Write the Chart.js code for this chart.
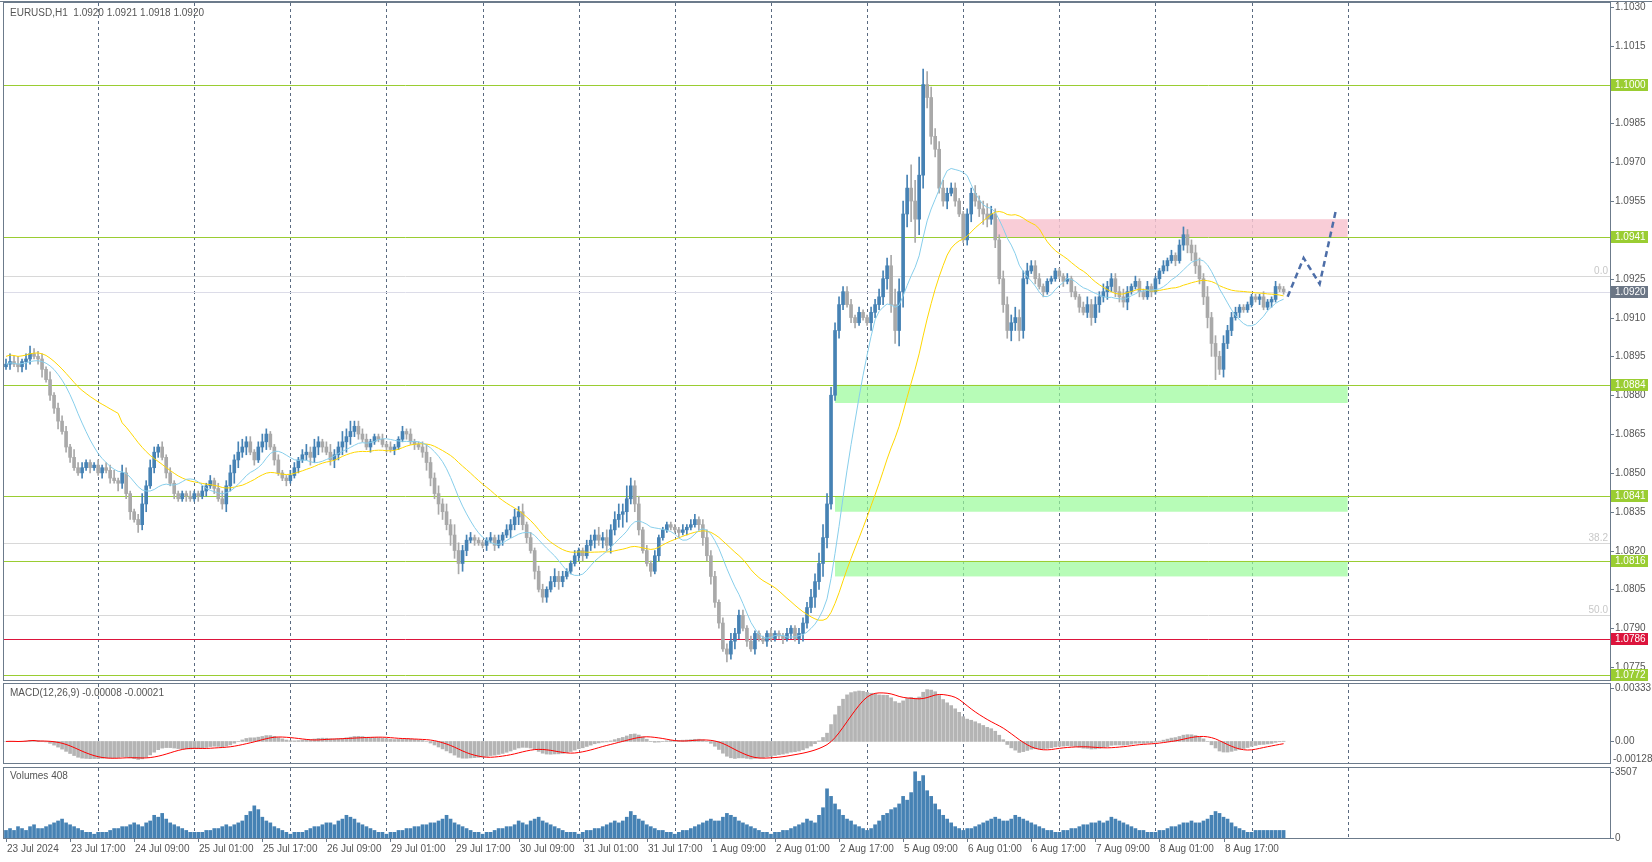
<!DOCTYPE html>
<html><head><meta charset="utf-8">
<script src="https://cdn.jsdelivr.net/npm/chart.js@4.4.1/dist/chart.umd.min.js"></script>
<style>body{margin:0;background:#fff;overflow:hidden}.p{position:absolute;left:0;width:1652px}</style>
</head><body>
<div class="p" style="top:0"><canvas id="c1" width="1652" height="682"></canvas></div>
<div class="p" style="top:682px"><canvas id="c2" width="1652" height="82"></canvas></div>
<div class="p" style="top:764px"><canvas id="c3" width="1652" height="98"></canvas></div>
<script>
// closes in pips above 1.0800, hourly EURUSD H1
const closePips = [
92,93,92,91,93,94,96,95,94,90,86,80,75,70,66,60,56,52,50,52,54,52,53,50,
52,51,48,47,46,50,42,35,32,30,38,45,52,58,60,56,50,46,42,40,42,41,40,42,
41,43,45,47,44,40,38,45,50,55,58,60,62,58,55,60,62,65,60,55,50,48,47,49,
52,55,57,58,56,60,62,60,58,55,57,60,62,64,66,68,65,63,60,62,64,63,61,60,
59,60,63,66,65,62,61,60,58,54,48,42,38,35,30,26,20,15,20,24,25,24,23,22,
24,25,22,24,26,28,30,33,35,30,25,20,12,5,2,5,8,10,8,10,12,15,18,20,
18,22,24,26,24,25,22,28,32,34,35,40,45,38,28,20,15,12,18,25,28,30,29,28,
27,28,29,30,32,30,25,18,10,0,-8,-18,-20,-15,-12,-5,-10,-15,-18,-12,-14,-15,-12,-14,
-12,-13,-14,-12,-10,-14,-12,-8,-2,2,8,15,25,38,80,105,115,120,115,110,108,112,110,108,
112,115,118,125,130,115,105,120,150,160,155,148,165,200,195,180,175,160,155,158,160,155,150,140,
150,158,155,152,150,148,150,140,125,115,105,108,110,105,125,128,130,125,122,120,124,125,128,126,
124,125,120,118,114,112,115,110,115,118,120,122,125,120,118,116,120,122,124,120,118,122,120,125,
128,130,132,134,132,138,142,138,135,130,125,118,110,100,95,90,100,105,110,112,114,113,115,118,
117,118,114,116,117,122,121,120];
const wickUp = "232312322213122213221112"+"122313211242321212111121"+"121212323243221232112112"+"212323212322434222211121"+
"211212112322323243222111"+"121212232312122123221121"+"122232323435323121211111"+"121221232212232221211112"+
"111211222334543332221211"+"223334655598765433322211"+"223234322333433322211111"+"121212323232222321211211"+
"121212322332423232221111"+"11211211";
const wickDn = "121223212312231221121211"+"212132231323122121211211"+"212121232432312123121121"+"121232321232343221121112"+
"121121212332432434321211"+"212121323221312212321112"+"212323232354232112121111"+"212112323221323212121121"+
"112121232243542232122111"+"322343566589654332231211"+"232343232334343212121111"+"212121232323222231121121"+
"212121233323459232212111"+"12112111";
const volHundreds = [
4,5,4,6,5,4,6,7,5,5,6,7,8,9,10,8,7,6,5,4,3,3,2,3,
3,3,4,5,5,6,6,7,8,7,6,8,9,12,11,13,10,8,7,6,5,4,3,3,
3,3,4,4,5,5,6,7,6,7,8,9,12,14,17,15,11,9,8,6,5,4,3,2,
3,3,3,4,5,6,6,7,8,8,7,9,10,12,11,10,8,7,6,5,4,3,3,2,
3,3,4,4,5,5,6,6,7,7,8,8,9,10,12,10,8,7,6,5,4,3,3,2,
3,3,4,5,5,6,6,7,9,8,7,9,10,11,9,8,7,6,5,4,3,3,3,2,
3,4,4,5,5,6,7,8,9,8,9,11,14,12,10,9,7,6,5,4,4,3,3,2,
3,4,4,5,6,7,8,9,10,9,9,11,13,12,11,9,8,7,6,5,4,3,3,2,
3,3,4,4,5,6,7,8,10,9,8,12,16,26,22,18,15,12,10,9,7,6,5,4,
5,7,9,12,13,15,16,18,22,20,24,35,30,33,25,22,18,15,12,10,8,6,5,4,
5,5,6,7,8,9,10,11,10,9,9,10,12,11,10,9,8,7,6,5,4,4,3,3,
4,4,5,5,6,7,7,8,8,9,8,9,11,10,9,8,7,6,5,4,4,3,3,3,
4,4,5,6,6,7,8,8,9,8,8,9,10,12,14,13,11,10,8,6,5,4,3,3,
4,4,4,4,4,4,4,4];
const timeLabels = ["23 Jul 2024","23 Jul 17:00","24 Jul 09:00","25 Jul 01:00","25 Jul 17:00","26 Jul 09:00","29 Jul 01:00","29 Jul 17:00","30 Jul 09:00","31 Jul 01:00","31 Jul 17:00","1 Aug 09:00","2 Aug 01:00","2 Aug 17:00","5 Aug 09:00","6 Aug 01:00","6 Aug 17:00","7 Aug 09:00","8 Aug 01:00","8 Aug 17:00"];
const greenLevels = [1.1000,1.0941,1.0884,1.0841,1.0816,1.0772];
const redLevel = 1.0786;
const currentPrice = 1.0920;
const fibLevels = [[1.0926,"0.0"],[1.0823,"38.2"],[1.0795,"50.0"]];
const greenZones = [[1.0877,1.0884],[1.0835,1.0841],[1.0810,1.0816]];
const pinkZone = [1.0941,1.0948];
const zoneStart = 207, zoneEnd = 335;
const forecastIdx = [320,324,328,332];
const forecastVal = [1.0918,1.0933,1.0923,1.0951];

const N = 401;
const labels = Array.from({length:N},(_,i)=>i);
const C = closePips.map(v=>1.08+v/10000);
const O = C.map((v,i)=> i? C[i-1] : 1.0891);
const H = C.map((v,i)=>Math.max(v,O[i]) + (+wickUp[i]||1)/10000);
const L = C.map((v,i)=>Math.min(v,O[i]) - (+wickDn[i]||1)/10000);
function pad(a){const r=new Array(N).fill(null);a.forEach((v,i)=>r[i]=v);return r;}
const bodies = pad(C.map((c,i)=> c===O[i] ? [c-0.00003,c+0.00003] : [Math.min(c,O[i]),Math.max(c,O[i])]));
const bodyCol = pad(C.map((c,i)=> c>O[i] ? '#4682b4' : c<O[i] ? '#a9a9a9' : '#000'));
const wicks = pad(C.map((c,i)=>[L[i],H[i]]));
function sma(a,p){return a.map((v,i)=> i<p-1?null: a.slice(i-p+1,i+1).reduce((s,x)=>s+x,0)/p);}
function ema(a,p){const k=2/(p+1);let e=a[0];return a.map(v=>e=v*k+e*(1-k));}
const maFast = pad(sma(C,12).map((v,i)=>v===null?C.slice(0,i+1).reduce((s,x)=>s+x,0)/(i+1):v));
const maSlow = pad(sma(C,30).map((v,i)=>v===null?C.slice(0,i+1).reduce((s,x)=>s+x,0)/(i+1)+0.0003:v));
const e12=ema(C,12), e26=ema(C,26);
const macd = C.map((v,i)=>e12[i]-e26[i]);
const sig = sma(macd,9).map((v,i)=>v===null?macd[i]:v);
const fc = new Array(N).fill(null); forecastIdx.forEach((ix,k)=>fc[ix]=forecastVal[k]);

const FONT = '10px "Liberation Sans", Arial, sans-serif';
function vgrid(ch){const {ctx,chartArea:a,scales:{x}}=ch;ctx.save();ctx.strokeStyle='#5a6a80';ctx.lineWidth=1;ctx.setLineDash([3,3]);
 for(let i=23;i<=340;i+=24){const px=Math.round(x.getPixelForValue(i))+0.5;ctx.beginPath();ctx.moveTo(px,a.top);ctx.lineTo(px,a.bottom);ctx.stroke();}ctx.restore();}
function frame(ch){const {ctx,chartArea:a}=ch;ctx.save();ctx.strokeStyle='#6c7b8b';ctx.lineWidth=1;ctx.strokeRect(a.left-0.5,a.top-0.5,a.right-a.left+1,a.bottom-a.top+1);ctx.restore();}
function ylabel(ch,v,txt,bg,fg){const {ctx,chartArea:a,scales:{y}}=ch;const py=Math.round(y.getPixelForValue(v));ctx.save();ctx.font=FONT;ctx.textBaseline='middle';
 if(bg){ctx.fillStyle=bg;ctx.fillRect(a.right+1,py-6,37,12);}
 else{ctx.strokeStyle='#6c7b8b';ctx.beginPath();ctx.moveTo(a.right,py+0.5);ctx.lineTo(a.right+4,py+0.5);ctx.stroke();}
 ctx.fillStyle=fg||'#555';ctx.fillText(txt,a.right+5,py);ctx.restore();}

const mainPlugin={id:'mainP',
 beforeDatasetsDraw(ch){const {ctx,chartArea:a,scales:{x,y}}=ch;vgrid(ch);ctx.save();
  const zx0=x.getPixelForValue(zoneStart), zx1=x.getPixelForValue(zoneEnd);
  ctx.fillStyle='rgba(152,251,152,0.7)';greenZones.forEach(z=>{const t=y.getPixelForValue(z[1]),b=y.getPixelForValue(z[0]);ctx.fillRect(zx0,t,zx1-zx0,b-t);});
  ctx.fillStyle='rgba(248,196,208,0.85)';{const t=y.getPixelForValue(pinkZone[1]),b=y.getPixelForValue(pinkZone[0]);const px=x.getPixelForValue(247);ctx.fillRect(px,t,zx1-px,b-t);}
  ctx.lineWidth=1;
  fibLevels.forEach(f=>{const py=Math.round(y.getPixelForValue(f[0]))+0.5;ctx.strokeStyle='#d8d8d8';ctx.beginPath();ctx.moveTo(a.left,py);ctx.lineTo(a.right,py);ctx.stroke();
   ctx.font=FONT;ctx.fillStyle='#c8c8c8';ctx.textAlign='right';ctx.fillText(f[1],a.right-2,py-3);});
  {const py=Math.round(y.getPixelForValue(currentPrice))+0.5;ctx.strokeStyle='#dcdce8';ctx.beginPath();ctx.moveTo(a.left,py);ctx.lineTo(a.right,py);ctx.stroke();}
  ctx.strokeStyle='#9acd32';greenLevels.forEach(v=>{const py=Math.round(y.getPixelForValue(v))+0.5;ctx.beginPath();ctx.moveTo(a.left,py);ctx.lineTo(a.right,py);ctx.stroke();});
  {const py=Math.round(y.getPixelForValue(redLevel))+0.5;ctx.strokeStyle='#dc143c';ctx.beginPath();ctx.moveTo(a.left,py);ctx.lineTo(a.right,py);ctx.stroke();}
  ctx.restore();},
 afterDraw(ch){const {ctx}=ch;frame(ch);
  ctx.save();ctx.strokeStyle='#6c7b8b';ctx.beginPath();ctx.moveTo(0,1.5);ctx.lineTo(1652,1.5);ctx.stroke();ctx.restore();
  for(let k=0;k<=17;k++){const v=1.0775+0.0015*k;ylabel(ch,v,v.toFixed(4));}
  greenLevels.forEach(v=>ylabel(ch,v,v.toFixed(4),'#9acd32','#fff'));
  ylabel(ch,redLevel,redLevel.toFixed(4),'#dc143c','#fff');
  ylabel(ch,currentPrice,currentPrice.toFixed(4),'#6b7685','#fff');
  ctx.save();ctx.font=FONT;ctx.fillStyle='#555';ctx.textBaseline='middle';ctx.fillText('EURUSD,H1  1.0920 1.0921 1.0918 1.0920',10,13);ctx.restore();}};

const common={responsive:false,animation:false,plugins:{legend:{display:false},tooltip:{enabled:false}}};

new Chart(document.getElementById('c1'),{type:'bar',data:{labels,datasets:[
 {data:wicks,backgroundColor:bodyCol.map(c=>c||'#000'),barThickness:1,grouped:false,order:3},
 {data:bodies,backgroundColor:bodyCol,barThickness:3,grouped:false,order:2},
 {type:'line',data:maFast,borderColor:'#87ceeb',borderWidth:1,pointRadius:0,order:1},
 {type:'line',data:maSlow,borderColor:'#ffd700',borderWidth:1,pointRadius:0,order:1},
 {type:'line',data:fc,spanGaps:true,borderColor:'#4d6ea8',borderWidth:2.5,borderDash:[6,4],pointRadius:0,order:0}
]},options:{...common,layout:{padding:{left:4,right:42,top:3,bottom:2}},
 scales:{x:{display:false,offset:true},y:{display:false,min:1.0770,max:1.10315}}},plugins:[mainPlugin]});

const macdPlugin={id:'macdP',beforeDatasetsDraw(ch){vgrid(ch);},
 afterDraw(ch){frame(ch);ylabel(ch,0.00333,'0.00333');ylabel(ch,0,'0.00');
  const {ctx,chartArea:a}=ch;ctx.save();ctx.font=FONT;ctx.fillStyle='#555';ctx.textBaseline='middle';ctx.fillText('-0.00128',a.right+3,a.bottom-4);
  ctx.fillText('MACD(12,26,9) -0.00008 -0.00021',10,a.top+9);ctx.restore();}};
new Chart(document.getElementById('c2'),{type:'bar',data:{labels,datasets:[
 {data:pad(macd),backgroundColor:'#b4b4b4',barThickness:3,order:2},
 {type:'line',data:pad(sig),borderColor:'#ff0000',borderWidth:1,pointRadius:0,order:1}
]},options:{...common,layout:{padding:{left:4,right:42,top:2,bottom:1}},
 scales:{x:{display:false,offset:true},y:{display:false,min:-0.00135,max:0.0036}}},plugins:[macdPlugin]});

const volPlugin={id:'volP',beforeDatasetsDraw(ch){vgrid(ch);},
 afterDraw(ch){frame(ch);const {ctx,chartArea:a,scales:{x}}=ch;ylabel(ch,3507,'3507');ylabel(ch,0,'0');
  ctx.save();ctx.font=FONT;ctx.fillStyle='#555';ctx.textBaseline='middle';ctx.fillText('Volumes 408',10,a.top+8);
  ctx.strokeStyle='#6c7b8b';
  timeLabels.forEach((t,k)=>{const px=Math.round(x.getPixelForValue(k*16));ctx.beginPath();ctx.moveTo(px+0.5,a.bottom);ctx.lineTo(px+0.5,a.bottom+4);ctx.stroke();ctx.fillText(t,px+1,a.bottom+11);});
  ctx.restore();}};
new Chart(document.getElementById('c3'),{type:'bar',data:{labels,datasets:[
 {data:pad(volHundreds.map(v=>v*100)),backgroundColor:'#4682b4',barThickness:3}
]},options:{...common,layout:{padding:{left:4,right:42,top:4,bottom:24}},
 scales:{x:{display:false,offset:true},y:{display:false,min:0,max:3700}}},plugins:[volPlugin]});
</script></body></html>
